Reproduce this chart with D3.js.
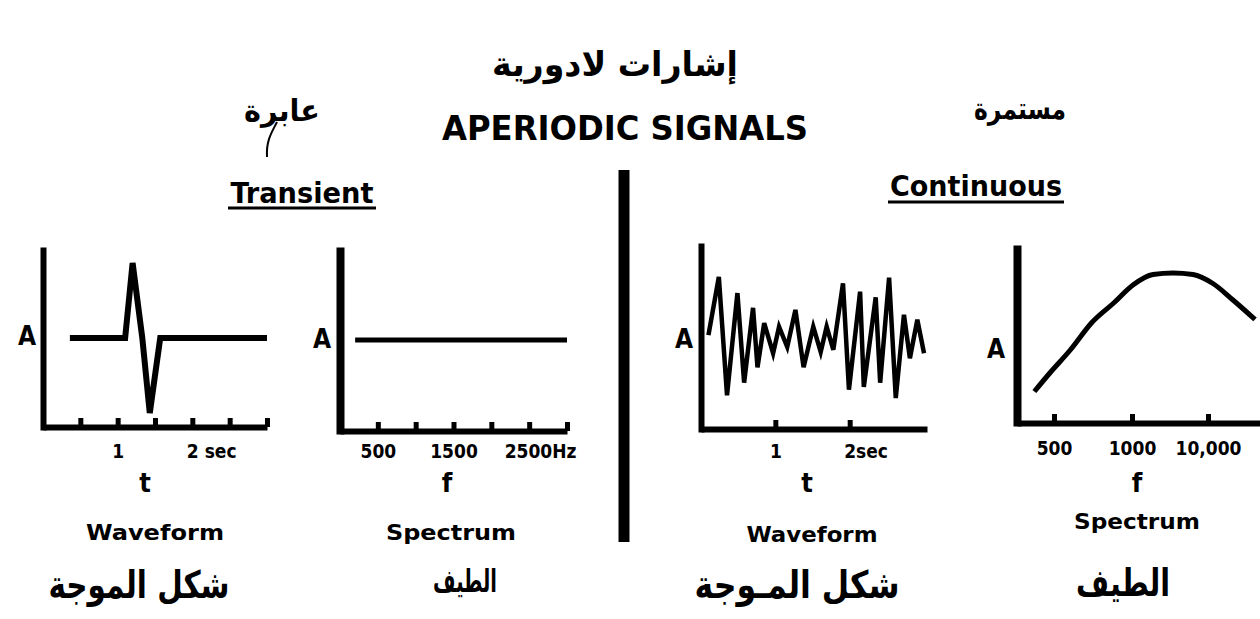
<!DOCTYPE html>
<html>
<head>
<meta charset="utf-8">
<script src="https://cdn.jsdelivr.net/npm/d3@7"></script>
<style>
  body { margin: 0; background: #fff; }
  svg { display: block; }
  .lat { font-family: "DejaVu Sans Condensed", "DejaVu Sans", sans-serif; font-weight: bold; fill: #000; }
  .ar { font-family: "DejaVu Sans", "Noto Sans", sans-serif; font-weight: bold; fill: #000; }
</style>
</head>
<body>
<div id="chart"></div>
<script>
// data
var transientT = [0.36, 1.10, 1.20, 1.33, 1.43, 1.57, 3.0];   // sec
var transientA = [0, 0, 1, 0, -1, 0, 0];

var flatF = [200, 3000];   // Hz
var flatA = [0.5, 0.5];

var contT = [0.10, 0.24, 0.35, 0.49, 0.58, 0.70, 0.76, 0.85, 0.97, 1.05, 1.16, 1.27, 1.38,
             1.51, 1.61, 1.69, 1.78, 1.91, 1.99, 2.14, 2.19, 2.35, 2.41, 2.53, 2.62, 2.73,
             2.81, 2.91, 3.00];
var contA = [0.07, 0.90, -0.79, 0.67, -0.61, 0.46, -0.39, 0.24, -0.19, 0.19, -0.10, 0.43, -0.39,
             0.19, -0.17, 0.19, -0.14, 0.81, -0.71, 0.69, -0.67, 0.61, -0.61, 0.89, -0.83, 0.36,
             -0.26, 0.29, -0.19];

var specF = [420, 480, 580, 700, 850, 1030, 1890, 3460, 6350, 11600, 21300, 41500];
var specA = [0.21, 0.33, 0.49, 0.67, 0.80, 0.92, 0.99, 1.0, 0.99, 0.93, 0.82, 0.69];

var transientTicks = [0.5, 1, 1.5, 2, 2.5, 3];
var transientLabels = {1: "1", 2: "2 sec"};
var flatTicks = [500, 1000, 1500, 2000, 2500, 3000];
var flatLabels = {500: "500", 1500: "1500", 2500: "2500Hz"};
var contTicks = [1, 2];
var contLabels = {1: "1", 2: "2sec"};
var specTicks = [500, 1000, 10000];
var specLabels = {500: "500", 1000: "1000", 10000: "10,000"};

var width = 1260, height = 619;

var svg = d3.select('#chart').append('svg')
  .attr('width', width)
  .attr('height', height);

// scales for each little plot
var x1 = d3.scaleLinear().domain([0, 3]).range([43, 267]);
var y1 = d3.scaleLinear().domain([-1, 1]).range([413, 263]);
var x2 = d3.scaleLinear().domain([0, 3000]).range([340, 567]);
var y2 = d3.scaleLinear().domain([0, 1]).range([431, 249]);
var x3 = d3.scaleLinear().domain([0, 3.04]).range([701, 927]);
var y3 = d3.scaleLinear().domain([-1, 1]).range([410, 270]);
// the frequency axis of the last plot is uneven: 500, 1000, 10,000
var x4 = d3.scaleLog().domain([360, 500, 1000, 10000, 48300]).range([1017, 1054, 1132, 1208, 1260]);
var y4 = d3.scaleLinear().domain([0, 1]).range([423, 273]);

var panels = [
  {x: x1, y: y1, xs: transientT, ys: transientA, ticks: transientTicks, labels: transientLabels,
   axisY: 427, yTop: 247, sw: 6, curve: d3.curveLinear, lw: 6, pad: 18, shift: {2: -6},
   A: [27, 345], v: ["t", 145]},
  {x: x2, y: y2, xs: flatF, ys: flatA, ticks: flatTicks, labels: flatLabels,
   axisY: 431, yTop: 247, sw: 8, curve: d3.curveLinear, lw: 5, pad: 14, shift: {2500: -25},
   A: [322, 348], v: ["f", 447]},
  {x: x3, y: y3, xs: contT, ys: contA, ticks: contTicks, labels: contLabels,
   axisY: 429, yTop: 243, sw: 6, curve: d3.curveLinear, lw: 4.5, pad: 16, shift: {2: -6},
   A: [684, 348], v: ["t", 807]},
  {x: x4, y: y4, xs: specF, ys: specA, ticks: specTicks, labels: specLabels,
   axisY: 423, yTop: 245, sw: 8, curve: d3.curveMonotoneX, lw: 5, pad: 19, shift: {},
   A: [996, 358], v: ["f", 1137]}
];

panels.forEach(function(p) {
  var x0 = p.x.range()[0];

  // y axis: just the thick line
  var ya = d3.scaleLinear().domain([0, 1]).range([p.axisY + 3, p.yTop]);
  svg.append('g')
    .attr('transform', 'translate(' + x0 + ',0)')
    .call(d3.axisLeft(ya).tickValues([]).tickSizeOuter(0))
    .select('.domain')
    .attr('stroke', '#000')
    .attr('stroke-width', p.sw);

  // x axis with inward ticks
  var xa = svg.append('g')
    .attr('transform', 'translate(0,' + p.axisY + ')')
    .call(d3.axisBottom(p.x)
      .tickValues(p.ticks)
      .tickSizeInner(-9)
      .tickSizeOuter(0)
      .tickPadding(p.pad)
      .tickFormat(function(d) { return p.labels[d] || ''; }));
  xa.select('.domain').attr('stroke', '#000').attr('stroke-width', 6);
  xa.selectAll('.tick line').attr('stroke', '#000').attr('stroke-width', 5);
  xa.selectAll('.tick text')
    .attr('class', 'lat')
    .style('font-size', '19px')
    .attr('fill', '#000')
    .attr('text-anchor', function(d) { return p.shift[d] !== undefined ? 'start' : 'middle'; })
    .attr('dx', function(d) { return p.shift[d] !== undefined ? p.shift[d] : 0; });

  // the signal
  var line = d3.line()
    .x(function(d, i) { return p.x(p.xs[i]); })
    .y(function(d, i) { return p.y(p.ys[i]); })
    .curve(p.curve);
  svg.append('path')
    .attr('d', line(p.xs))
    .attr('fill', 'none')
    .attr('stroke', '#000')
    .attr('stroke-width', p.lw)
    .attr('stroke-linejoin', 'miter');

  svg.append('text').attr('class', 'lat')
    .attr('x', p.A[0]).attr('y', p.A[1])
    .attr('text-anchor', 'middle')
    .style('font-size', '26px')
    .text('A');

  svg.append('text').attr('class', 'lat')
    .attr('x', p.v[1]).attr('y', 492)
    .attr('text-anchor', 'middle')
    .style('font-size', '27px')
    .text(p.v[0]);
});

// divider
svg.append('line')
  .attr('x1', 624).attr('x2', 624)
  .attr('y1', 170).attr('y2', 542)
  .attr('stroke', '#000')
  .attr('stroke-width', 11);

// texts: [class, text, x, y, size, length]
var texts = [
  ['ar', 'إشارات لادورية', 615, 76, 34, 246],
  ['lat', 'APERIODIC SIGNALS', 625, 140, 34, 366],
  ['ar', 'عابرة', 282, 121, 30, 76],
  ['ar', 'مستمرة', 1020, 119, 30, 92],
  ['lat', 'Transient', 302, 203, 28, 143],
  ['lat', 'Continuous', 976, 196, 28, 172],
  ['lat', 'Waveform', 155, 540, 21, 138],
  ['lat', 'Spectrum', 451, 540, 21, 130],
  ['lat', 'Waveform', 812, 542, 21, 131],
  ['lat', 'Spectrum', 1137, 529, 21, 126],
  ['ar', 'شكل الموجة', 139, 598, 38, 181],
  ['ar', 'الطيف', 465, 592, 32, 64],
  ['ar', 'شكل المـوجة', 797, 598, 38, 205],
  ['ar', 'الطيف', 1123, 596, 38, 94]
];

texts.forEach(function(t) {
  svg.append('text')
    .attr('class', t[0])
    .attr('x', t[2]).attr('y', t[3])
    .attr('text-anchor', 'middle')
    .style('font-size', t[4] + 'px')
    .attr('textLength', t[5])
    .attr('lengthAdjust', 'spacingAndGlyphs')
    .text(t[1]);
});

// underlines of the two headings
[[228, 376, 208], [888, 1064, 202]].forEach(function(u) {
  svg.append('line')
    .attr('x1', u[0]).attr('x2', u[1])
    .attr('y1', u[2]).attr('y2', u[2])
    .attr('stroke', '#000')
    .attr('stroke-width', 3);
});

// hand-drawn pointer under the arabic word for transient
svg.append('path')
  .attr('d', 'M277,122 C272,132 266,140 267,157')
  .attr('fill', 'none')
  .attr('stroke', '#000')
  .attr('stroke-width', 2);
</script>
</body>
</html>
